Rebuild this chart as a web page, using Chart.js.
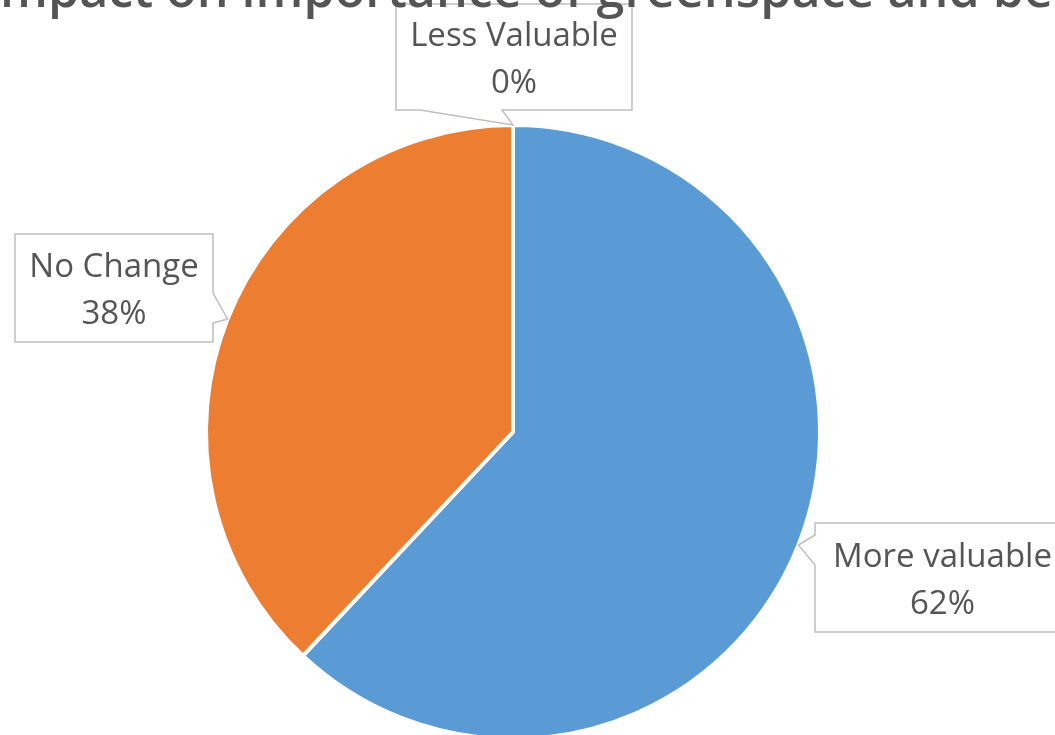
<!DOCTYPE html>
<html>
<head>
<meta charset="utf-8">
<script src="https://cdn.jsdelivr.net/npm/chart.js@4"></script>
<style>
  html, body { margin: 0; padding: 0; background: #fff; overflow: hidden; }
  #wrap { width: 1055px; height: 735px; }
</style>
</head>
<body>
<div id="wrap"><canvas id="pieChart" width="1055" height="735"></canvas></div>
<script>
const categories = ["More valuable", "No Change", "Less Valuable"];
const shares = [62, 38, 0];
const sliceColors = ["#5B9BD5", "#ED7D31", "#A5A5A5"];
const titleText = "Impact on importance of greenspace and benefits";

// callout boxes (same order as categories), wedge sits on one side between a and b
const callouts = [
    { x: 815, y: 523, w: 255, h: 109, side: "left", a: 535, b: 565 },
    { x: 15, y: 234, w: 198, h: 108, side: "right", a: 293, b: 323 },
    { x: 396, y: 4, w: 236, h: 106, side: "bottom", a: 420, b: 502 }
];

const textColor = "#555555";

const titlePlugin = {
    id: "cutTitle",
    afterDraw(chart) {
        const ctx = chart.ctx;
        ctx.save();
        ctx.font = "600 48px 'Open Sans'";
        // scale so the visible part spans the same width as in the picture
        const w = ctx.measureText("mpact on importance of greenspace and ").width;
        const size = 48 * 993 / w;
        ctx.font = "600 " + size + "px 'Open Sans'";
        const lead = ctx.measureText("I").width;
        ctx.fillStyle = textColor;
        ctx.textBaseline = "alphabetic";
        ctx.fillText(titleText, -lead, 7);
        ctx.restore();
    }
};

const calloutPlugin = {
    id: "callouts",
    afterDatasetsDraw(chart) {
        const ctx = chart.ctx;
        const arcs = chart.getDatasetMeta(0).data;
        const total = shares.reduce((s, v) => s + v, 0);
        ctx.save();
        arcs.forEach((arc, i) => {
            const p = arc.getProps(["x", "y", "startAngle", "endAngle", "outerRadius"], true);
            const mid = (p.startAngle + p.endAngle) / 2;
            const tx = p.x + Math.cos(mid) * p.outerRadius;
            const ty = p.y + Math.sin(mid) * p.outerRadius;
            const c = callouts[i];
            const r = c.x + c.w, btm = c.y + c.h;

            ctx.beginPath();
            ctx.moveTo(c.x, c.y);
            ctx.lineTo(r, c.y);
            if (c.side === "right") {
                ctx.lineTo(r, c.a); ctx.lineTo(tx, ty); ctx.lineTo(r, c.b);
            }
            ctx.lineTo(r, btm);
            if (c.side === "bottom") {
                ctx.lineTo(c.b, btm); ctx.lineTo(tx, ty); ctx.lineTo(c.a, btm);
            }
            ctx.lineTo(c.x, btm);
            if (c.side === "left") {
                ctx.lineTo(c.x, c.b); ctx.lineTo(tx, ty); ctx.lineTo(c.x, c.a);
            }
            ctx.closePath();
            ctx.fillStyle = "#ffffff";
            ctx.fill();
            ctx.strokeStyle = "#BFBFBF";
            ctx.lineWidth = 1.5;
            ctx.stroke();

            const cx = c.x + c.w / 2, cy = c.y + c.h / 2;
            ctx.fillStyle = textColor;
            ctx.font = "33px 'Open Sans'";
            ctx.textAlign = "center";
            ctx.textBaseline = "alphabetic";
            ctx.fillText(categories[i], cx, cy - 11);
            ctx.fillText(Math.round(shares[i] / total * 100) + "%", cx, cy + 36);
        });
        ctx.restore();
    }
};

const ctx = document.getElementById("pieChart").getContext("2d");
const myChart = new Chart(ctx, {
    type: "pie",
    data: {
        labels: categories,
        datasets: [{
            data: shares,
            backgroundColor: sliceColors,
            borderColor: "#ffffff",
            borderWidth: 4,
            radius: 307
        }]
    },
    options: {
        responsive: false,
        animation: false,
        layout: { padding: { top: 200, bottom: 71, left: 0, right: 29 } },
        plugins: {
            legend: { display: false },
            tooltip: { enabled: false }
        }
    },
    plugins: [titlePlugin, calloutPlugin]
});
</script>
</body>
</html>
